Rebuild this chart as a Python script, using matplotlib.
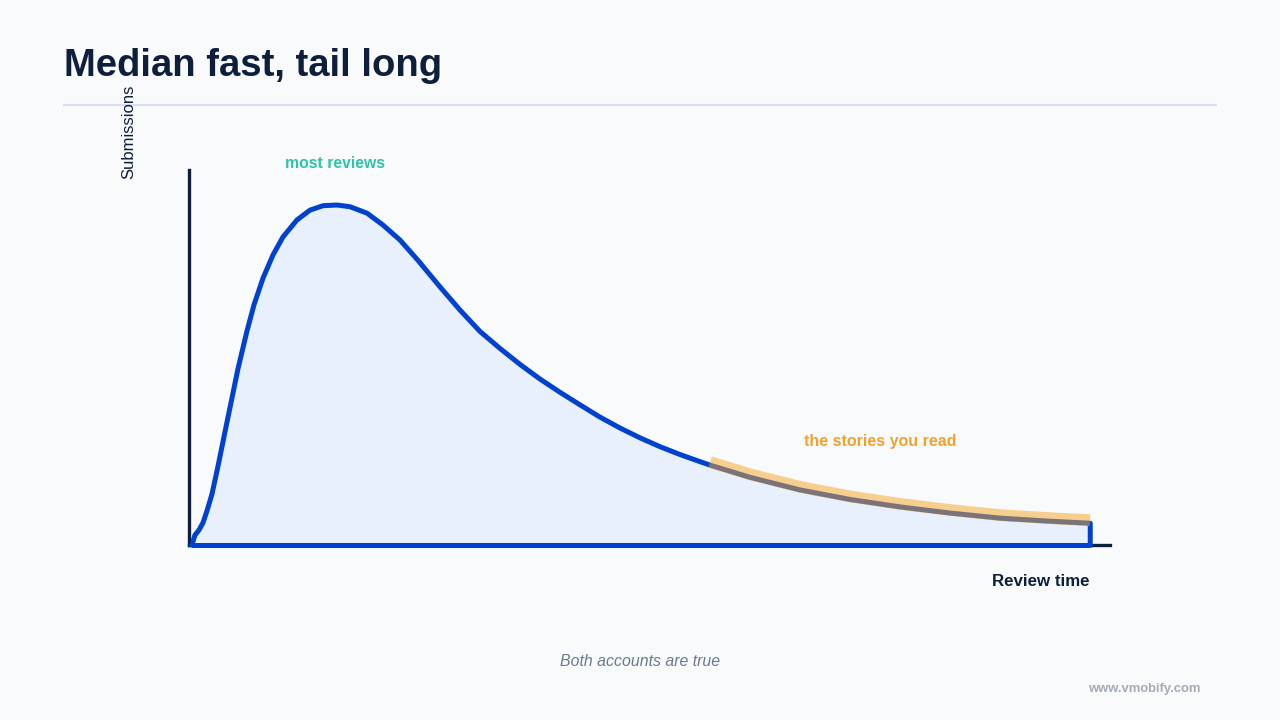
import matplotlib
matplotlib.use("Agg")
import matplotlib.pyplot as plt
import matplotlib.transforms as mtransforms

# review time (0-100) vs submissions (peak = 100)
review_time = [0.33, 0.78, 1.22, 1.67, 2.23, 2.90, 3.67, 4.45, 5.12, 6.12,
               6.90, 7.91, 9.02, 10.13, 11.69, 13.14, 14.59, 16.15, 17.59, 19.49,
               21.27, 23.16, 25.17, 27.62, 29.84, 32.07, 34.30, 36.53, 38.75, 40.98,
               43.21, 45.43, 47.66, 49.89, 52.12, 54.34, 56.57, 57.68, 62.14, 67.71,
               73.27, 78.84, 84.41, 89.98, 95.55, 100.0]
submissions = [2.9, 4.4, 6.5, 10.0, 15.0, 23.2, 33.2, 43.2, 51.8, 62.9,
               70.6, 78.5, 85.3, 90.6, 95.6, 98.5, 99.8, 100.0, 99.5, 97.6,
               94.1, 89.7, 83.7, 75.9, 69.1, 62.8, 57.8, 53.1, 48.8, 44.9,
               41.2, 37.6, 34.4, 31.5, 28.9, 26.6, 24.5, 23.5, 19.9, 16.2,
               13.4, 11.2, 9.4, 7.9, 7.0, 6.4]
tail_start = 57.68

title = "Median fast, tail long"
x_label = "Review time"
y_label = "Submissions"
peak_note = "most reviews"
tail_note = "the stories you read"
caption = "Both accounts are true"
source = "www.vmobify.com"

bg = "#f9fafb"
navy = "#0d1f3c"
blue = "#0041d0"
fill = "#e8f0fd"
orange = "#f5a623"

plt.rcParams["font.family"] = ["Liberation Sans", "DejaVu Sans"]

fig = plt.figure(figsize=(12.8, 7.2), dpi=100, facecolor=bg)

# title and separator
fig.text(64 / 1280, 1 - 66 / 720, title, fontsize=27.5, fontweight="bold",
         color=navy, va="center", ha="left")
fig.add_artist(plt.Line2D([64 / 1280, 1216 / 1280], [1 - 105 / 720, 1 - 105 / 720],
                          color="#d6e0ee", lw=1.5))

ax = fig.add_axes([189 / 1280, 175 / 720, 921 / 1280, 375 / 720])
ax.set_facecolor("none")
ax.set_xlim(-0.33, 102.2)
ax.set_ylim(0, 110.3)
for s in ["top", "right"]:
    ax.spines[s].set_visible(False)
for s in ["left", "bottom"]:
    ax.spines[s].set_color(navy)
    ax.spines[s].set_linewidth(2.4)
ax.set_xticks([])
ax.set_yticks([])

xs = [0] + review_time + [review_time[-1]]
ys = [0] + submissions + [0]
ax.fill_between(xs, ys, 0, color=fill, lw=0, zorder=1)
ax.plot(xs, ys, color=blue, lw=3.6, solid_joinstyle="round", zorder=3, clip_on=False)
ax.plot([0, review_time[-1]], [0, 0], color=blue, lw=3.6, zorder=3, clip_on=False,
        solid_capstyle="butt")

# tail highlight, slightly above the curve
tx = [x for x in review_time if x >= tail_start]
ty = [y for x, y in zip(review_time, submissions) if x >= tail_start]
shift = mtransforms.offset_copy(ax.transData, fig=fig, x=0, y=3, units="dots")
ax.plot(tx, ty, color=orange, lw=8.5, alpha=0.5, transform=shift, zorder=4,
        solid_capstyle="butt", solid_joinstyle="round")

ax.text(15.9, 112.1, peak_note, color="#2ec4a6", fontsize=11.3, fontweight="bold",
        ha="center", va="center", clip_on=False)
ax.text(76.6, 30.4, tail_note, color="#f0a22e", fontsize=11.5, fontweight="bold",
        ha="center", va="center")

fig.text(1090 / 1280, 1 - 582 / 720, x_label, fontsize=12.2, fontweight="bold",
         color=navy, ha="right", va="center")
fig.text(129 / 1280, 1 - 132 / 720, y_label, fontsize=12, color=navy,
         rotation=90, ha="center", va="center")
fig.text(0.5, 1 - 661 / 720, caption, fontsize=11.4, style="italic",
         color="#6b7a90", ha="center", va="center")
fig.text(1200 / 1280, 1 - 689 / 720, source, fontsize=9.4, fontweight="bold",
         color="#a3abb9", ha="right", va="center")

fig.savefig("out.png", dpi=100, facecolor=bg)
